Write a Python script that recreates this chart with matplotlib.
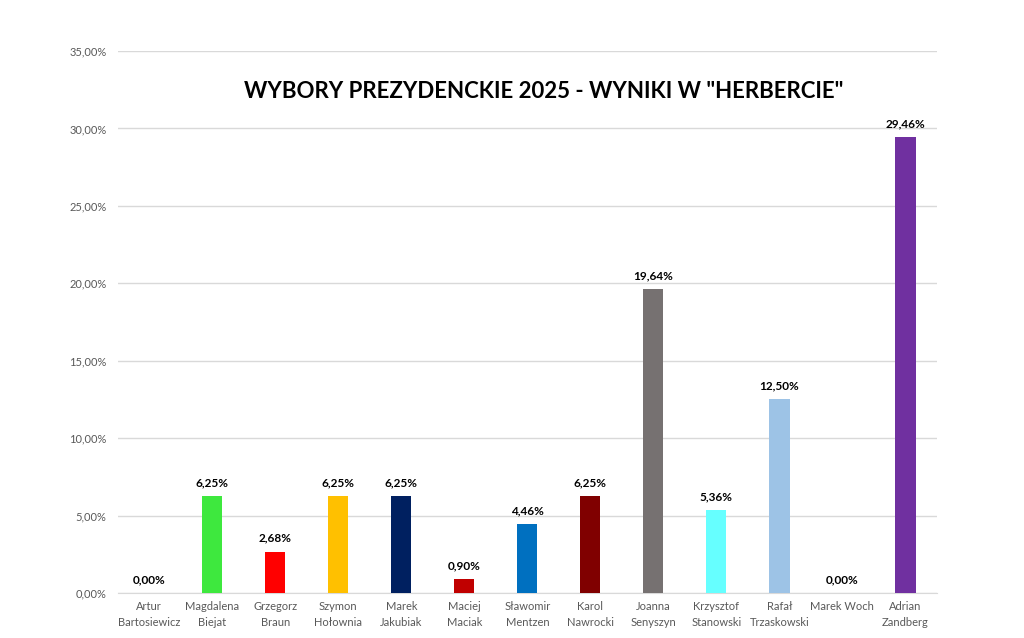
import matplotlib
matplotlib.use("Agg")
import matplotlib.pyplot as plt
from matplotlib.ticker import FuncFormatter

candidates = ["Artur\nBartosiewicz", "Magdalena\nBiejat", "Grzegorz\nBraun", "Szymon\nHołownia",
              "Marek\nJakubiak", "Maciej\nMaciak", "Sławomir\nMentzen", "Karol\nNawrocki",
              "Joanna\nSenyszyn", "Krzysztof\nStanowski", "Rafał\nTrzaskowski", "Marek Woch",
              "Adrian\nZandberg"]
values = [0.00, 6.25, 2.68, 6.25, 6.25, 0.90, 4.46, 6.25, 19.64, 5.36, 12.50, 0.00, 29.46]
colors = ["#4472c4", "#3ee83e", "#ff0000", "#ffc000", "#002060", "#c00000", "#0070c0",
          "#800000", "#767171", "#66ffff", "#9dc3e6", "#a5a5a5", "#7030a0"]
title = 'WYBORY PREZYDENCKIE 2025 - WYNIKI W "HERBERCIE"'

plt.rcParams['font.family'] = ['Lato', 'DejaVu Sans']
fig = plt.figure(figsize=(10.24, 6.38), dpi=100)
ax = fig.add_axes([0.115, 0.0705, 0.8, 0.8495])
x = range(len(values))
ax.bar(x, values, width=0.32, color=colors, zorder=3)
ax.set_xlim(-0.5, len(values) - 0.5)
ax.set_ylim(0, 35)
ax.set_yticks([0, 5, 10, 15, 20, 25, 30, 35])
ax.yaxis.set_major_formatter(FuncFormatter(lambda v, p: f"{v:.2f}%".replace('.', ',')))
ax.grid(axis='y', color='#d9d9d9', linewidth=1, zorder=0)
for s in ['top', 'right', 'left']:
    ax.spines[s].set_visible(False)
ax.spines['bottom'].set_color('#d9d9d9')
ax.tick_params(axis='both', length=0, labelsize=8, colors='#595959')
ax.tick_params(axis='y', pad=8)
ax.tick_params(axis='x', pad=6)
ax.set_xticks(list(x))
ax.set_xticklabels(candidates, fontsize=8, color='#595959', linespacing=1.5)
for i, v in enumerate(values):
    ax.text(i, v + 0.5, f"{v:.2f}%".replace('.', ','), ha='center', va='bottom',
            fontsize=8.5, fontweight='bold', color='#000000', zorder=4)
ax.text(0.52, 0.925, title, transform=ax.transAxes, ha='center', va='center',
        fontsize=16, fontweight='bold', color='#000000')
fig.savefig("out.png", dpi=100, facecolor='white')
